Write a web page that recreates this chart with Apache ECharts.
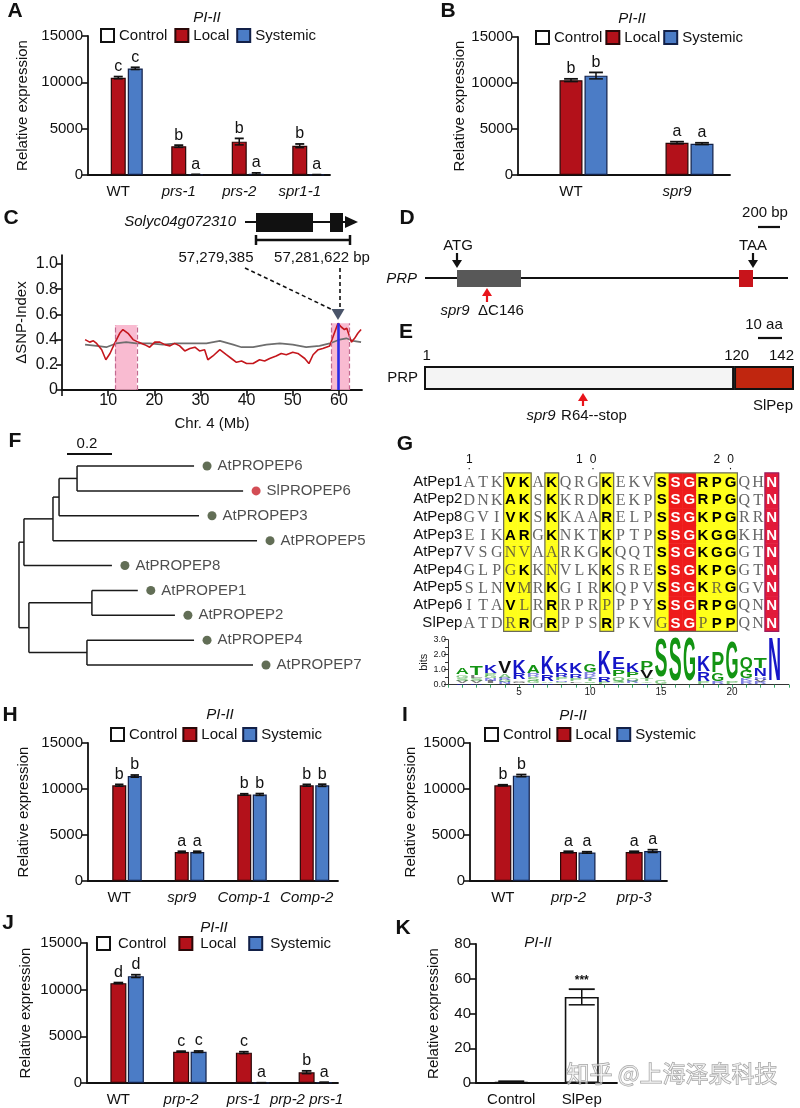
<!DOCTYPE html>
<html>
<head>
<meta charset="utf-8">
<script src="https://cdn.jsdelivr.net/npm/echarts@6/dist/echarts.min.js"></script>
<style>
html, body { margin: 0; padding: 0; background: #fff; }
#fig { width: 800px; height: 1108px; }
</style>
</head>
<body>
<div id="fig"></div>
<script>
// ---------- bar panels: PI-II expression ----------
const groupNames = ['Control', 'Local', 'Systemic'];

const catA = ['WT', 'prs-1', 'prs-2', 'spr1-1'];
const ctrlA = [40, 30, 30, 30];
const localA = [10500, 3100, 3600, 3150];
const sysA = [11500, 50, 130, 20];
const localErrA = [120, 120, 350, 200];
const sysErrA = [120, 20, 100, 20];
const localLetA = ['c', 'b', 'b', 'b'];
const sysLetA = ['c', 'a', 'a', 'a'];

const catB = ['WT', 'spr9'];
const ctrlB = [40, 30];
const localB = [10300, 3500];
const sysB = [10800, 3400];
const localErrB = [150, 120];
const sysErrB = [350, 100];
const localLetB = ['b', 'a'];
const sysLetB = ['b', 'a'];

const catH = ['WT', 'spr9', 'Comp-1', 'Comp-2'];
const ctrlH = [40, 30, 30, 30];
const localH = [10400, 3150, 9400, 10400];
const sysH = [11400, 3150, 9400, 10400];
const localErrH = [100, 80, 80, 100];
const sysErrH = [120, 80, 100, 120];
const localLetH = ['b', 'a', 'b', 'b'];
const sysLetH = ['b', 'a', 'b', 'b'];

const catI = ['WT', 'prp-2', 'prp-3'];
const ctrlI = [40, 30, 30];
const localI = [10400, 3150, 3150];
const sysI = [11450, 3100, 3250];
const localErrI = [60, 80, 80];
const sysErrI = [120, 80, 150];
const localLetI = ['b', 'a', 'a'];
const sysLetI = ['b', 'a', 'a'];

const catJ = ['WT', 'prp-2', 'prs-1', 'prp-2 prs-1'];
const ctrlJ = [40, 30, 30, 30];
const localJ = [10700, 3350, 3250, 1150];
const sysJ = [11450, 3350, 20, 60];
const localErrJ = [60, 60, 100, 150];
const sysErrJ = [150, 80, 10, 20];
const localLetJ = ['d', 'c', 'c', 'b'];
const sysLetJ = ['d', 'c', 'a', 'a'];

const catK = ['Control', 'SlPep'];
const valK = [0.6, 49.5];
const errK = [0.4, 4.5];
const letK = ['', '***'];

// ---------- panel C: delta SNP-index, chr 4 ----------
const redMb = [5.0, 6.0, 6.8, 7.5, 8.6, 9.5, 10.4, 11.4, 12.5, 13.2, 14.3, 15.4, 16.5, 17.9, 19.0, 20.1, 21.2, 22.3, 23.4, 24.4, 25.5, 26.6, 27.7, 28.8, 29.8, 30.9, 31.6, 32.7, 34.2, 35.6, 36.7, 37.8, 38.9, 40.0, 41.4, 42.8, 43.9, 45.0, 46.4, 47.5, 48.6, 50.0, 51.1, 52.6, 53.5, 54.4, 55.5, 56.5, 58.0, 58.9, 59.8, 60.5, 61.2, 61.7, 62.7, 63.4, 64.1, 64.8];
const redIdx = [0.40, 0.38, 0.39, 0.37, 0.32, 0.24, 0.29, 0.37, 0.45, 0.48, 0.45, 0.40, 0.38, 0.36, 0.34, 0.38, 0.38, 0.36, 0.35, 0.37, 0.35, 0.31, 0.33, 0.34, 0.31, 0.32, 0.24, 0.27, 0.32, 0.28, 0.25, 0.22, 0.23, 0.21, 0.21, 0.24, 0.23, 0.25, 0.27, 0.29, 0.28, 0.30, 0.29, 0.25, 0.21, 0.28, 0.32, 0.33, 0.35, 0.44, 0.53, 0.50, 0.48, 0.49, 0.38, 0.41, 0.45, 0.48];
const grayMb = [5.0, 7.5, 9.6, 11.7, 13.9, 16.1, 19.0, 21.9, 24.8, 28.4, 31.3, 34.2, 37.1, 38.9, 41.4, 44.3, 47.2, 50.0, 52.9, 55.8, 58.0, 60.2, 61.6, 63.0, 64.8];
const grayIdx = [0.36, 0.35, 0.34, 0.37, 0.38, 0.37, 0.37, 0.36, 0.37, 0.37, 0.37, 0.39, 0.36, 0.34, 0.34, 0.36, 0.37, 0.36, 0.34, 0.35, 0.37, 0.40, 0.41, 0.39, 0.38];
const pinkRegions = [[11.5, 16.2, 0.515], [58.4, 62.2, 0.53]];
const candidateMb = 59.8;
const candidatePeak = 0.53;

// ---------- panel E: PRP protein ----------
const prpLength = 142;
const pepStart = 120;
const prpTicks = [1, 120, 142];

// ---------- panel F: tree [name, branch length, children] ----------
const phyloTree = ['', 0, [
  ['', 0.022, [
    ['', 0.129, [
      ['', 0.027, [
        ['', 0.08, [['AtPROPEP6', 0.52], ['SlPROPEP6', 0.738]]],
        ['AtPROPEP3', 0.622]
      ]],
      ['AtPROPEP5', 0.907]
    ]],
    ['AtPROPEP8', 0.391]
  ]],
  ['', 0.044, [
    ['', 0.28, [['AtPROPEP1', 0.204], ['AtPROPEP2', 0.369]]],
    ['', 0.258, [['AtPROPEP4', 0.476], ['AtPROPEP7', 0.738]]]
  ]]
]];

// ---------- panel G: alignment + logo ----------
const pepNames = ['AtPep1', 'AtPep2', 'AtPep8', 'AtPep3', 'AtPep7', 'AtPep4', 'AtPep5', 'AtPep6', 'SlPep'];
const pepSeqs = [
  'ATKVKAKQRGKEKVSSGRPGQHN',
  'DNKAKSKKRDKEKPSSGRPGQTN',
  'GVIVKSKKAARELPSSGKPGRRN',
  'EIKARGKNKTKPTPSSGKGGKHN',
  'VSGNVAARKGKQQTSSGKGGGTN',
  'GLPGKKNVLKKSRESSGKPGGTN',
  'SLNVMRKGIRKQPVSSGKRGGVN',
  'ITAVLRRRPRPPPYSSGRPGQNN',
  'ATDRRGRPPSRPKVGSGPPPQNN'
];
const yellowCols = [4, 5, 7, 11, 15, 18, 19, 20];
const redCols = [16, 17, 23];
const thinCells = [[4, 4], [4, 5], [4, 7], [5, 4], [5, 7], [6, 5], [6, 19], [7, 5], [7, 11], [8, 4], [8, 15], [8, 18]];
const boxCols = [[4, 5], [7, 7], [11, 11], [15, 20], [23, 23]];
const headerDigits = { 1: '1', 9: '1', 10: '0', 19: '2', 20: '0' };
const headerDots = [1, 10, 20];
const logoStacks = [
  [['D', 0.1], ['V', 0.15], ['S', 0.2], ['G', 0.2], ['A', 0.45]],
  [['N', 0.1], ['V', 0.15], ['S', 0.15], ['L', 0.2], ['T', 0.6]],
  [['A', 0.1], ['I', 0.15], ['N', 0.15], ['G', 0.15], ['P', 0.15], ['K', 0.5]],
  [['N', 0.15], ['G', 0.15], ['R', 0.15], ['A', 0.25], ['V', 0.75]],
  [['L', 0.1], ['M', 0.1], ['V', 0.1], ['R', 0.4], ['K', 0.9]],
  [['K', 0.1], ['G', 0.15], ['S', 0.25], ['R', 0.25], ['A', 0.5]],
  [['N', 0.1], ['A', 0.1], ['R', 0.4], ['K', 1.2]],
  [['V', 0.1], ['G', 0.1], ['N', 0.1], ['P', 0.2], ['R', 0.3], ['K', 0.6]],
  [['I', 0.1], ['L', 0.1], ['P', 0.2], ['R', 0.3], ['K', 0.7]],
  [['A', 0.1], ['S', 0.1], ['T', 0.15], ['K', 0.2], ['R', 0.25], ['G', 0.5]],
  [['P', 0.15], ['R', 0.35], ['K', 1.6]],
  [['R', 0.1], ['S', 0.15], ['Q', 0.25], ['P', 0.45], ['E', 0.75]],
  [['T', 0.1], ['R', 0.15], ['Q', 0.2], ['P', 0.35], ['K', 0.65]],
  [['E', 0.1], ['Y', 0.1], ['T', 0.15], ['V', 0.55], ['P', 0.6]],
  [['G', 0.25], ['S', 2.6]],
  [['S', 2.9]],
  [['G', 2.9]],
  [['P', 0.2], ['R', 0.6], ['K', 1.1]],
  [['R', 0.15], ['G', 0.55], ['P', 1.4]],
  [['P', 0.15], ['G', 2.5]],
  [['R', 0.2], ['K', 0.2], ['G', 0.55], ['Q', 0.8]],
  [['R', 0.15], ['V', 0.15], ['H', 0.2], ['N', 0.5], ['T', 0.7]],
  [['N', 2.9]]
];

// ================= styles =================
const FONT = '"Liberation Sans", Arial, sans-serif';
const INK = '#111';
const barStyles = {
  Control: { color: '#ffffff', borderColor: '#111', borderWidth: 1.2 },
  Local: { color: '#b3111a', borderColor: '#2a0808', borderWidth: 1.2 },
  Systemic: { color: '#4b7cc6', borderColor: '#122048', borderWidth: 1.2 }
};

const grids = [], xAxes = [], yAxes = [], series = [], legends = [], graphics = [];

function txt(text, x, y, o) {
  o = o || {};
  graphics.push({
    type: 'text', z: 50, silent: true,
    style: {
      text: text, x: x, y: y, fill: o.fill || INK,
      font: o.font || ('15px ' + FONT),
      textAlign: o.align || 'center', textVerticalAlign: 'middle',
      align: o.align || 'center', verticalAlign: 'middle',
      stroke: o.stroke, lineWidth: o.lineWidth
    }
  });
}
function seg(x1, y1, x2, y2, color, w, dash) {
  graphics.push({ type: 'line', z: 50, silent: true, shape: { x1, y1, x2, y2 },
    style: { stroke: color || INK, lineWidth: w || 2, lineDash: dash || null } });
}
function box(x, y, w, h, fill) {
  graphics.push({ type: 'rect', z: 50, silent: true, shape: { x, y, width: w, height: h }, style: { fill } });
}
function arrow(x, yFrom, yTip, color) {
  const d = yTip > yFrom ? 1 : -1;
  seg(x, yFrom, x, yTip - d * 6, color, 2.2);
  graphics.push({ type: 'polygon', z: 50, silent: true,
    shape: { points: [[x - 5, yTip - d * 8], [x + 5, yTip - d * 8], [x, yTip]] }, style: { fill: color } });
}

function catLabel(v) {
  return (v === 'WT' || v === 'Control' || v === 'SlPep') ? v : '{i|' + v + '}';
}

function errSeries(xi, yi, vals, errs, letters, offset, capW, font) {
  return {
    type: 'custom', xAxisIndex: xi, yAxisIndex: yi, z: 5, silent: true,
    data: vals.map((v, i) => [i, v, errs[i]]),
    renderItem: function (params, api) {
      const i = params.dataIndex;
      const v = api.value(1), e = api.value(2);
      const pt = api.coord([i, v + e]);
      const pb = api.coord([i, Math.max(v - e, 0)]);
      const x = pt[0] + offset;
      const ch = [];
      if (e > 0) {
        ch.push({ type: 'line', shape: { x1: x, y1: pb[1], x2: x, y2: pt[1] }, style: { stroke: INK, lineWidth: 1.5 } });
        ch.push({ type: 'line', shape: { x1: x - capW / 2, y1: pt[1], x2: x + capW / 2, y2: pt[1] }, style: { stroke: INK, lineWidth: 1.8 } });
        ch.push({ type: 'line', shape: { x1: x - capW / 2, y1: pb[1], x2: x + capW / 2, y2: pb[1] }, style: { stroke: INK, lineWidth: 1.5 } });
      }
      if (letters[i]) {
        ch.push({ type: 'text', style: { text: letters[i], x: x, y: pt[1] - 2, textAlign: 'center', align: 'center',
          textVerticalAlign: 'bottom', verticalAlign: 'bottom', fill: INK, font: font || ('16px ' + FONT) } });
      }
      return { type: 'group', children: ch };
    }
  };
}

function axisPair(gi, p) {
  xAxes.push({
    type: 'category', gridIndex: gi, data: p.cats,
    axisLine: { lineStyle: { color: INK, width: 1.8 } },
    axisTick: { alignWithLabel: true, length: 5, lineStyle: { color: INK, width: 1.6 } },
    axisLabel: { color: INK, fontSize: 15, margin: 9, interval: 0, formatter: catLabel,
      rich: { i: { fontStyle: 'italic', fontSize: 15, color: INK } } }
  });
  yAxes.push({
    type: 'value', gridIndex: gi, min: 0, max: p.max, interval: p.interval,
    name: 'Relative expression', nameLocation: 'middle', nameGap: p.nameGap,
    nameTextStyle: { fontSize: 15, color: INK },
    splitLine: { show: false },
    axisLine: { show: true, lineStyle: { color: INK, width: 1.8 } },
    axisTick: { show: true, length: 6, lineStyle: { color: INK, width: 1.6 } },
    axisLabel: { color: INK, fontSize: 15, margin: 5, formatter: v => String(v) }
  });
  return [xAxes.length - 1, yAxes.length - 1];
}

function barPanel(p) {
  const gi = grids.length;
  grids.push({ left: p.left, top: p.top, width: p.width, height: p.height });
  const [xi, yi] = axisPair(gi, Object.assign({ max: 15000, interval: 5000 }, p));
  const vals = [p.ctrl, p.local, p.sys];
  vals.forEach((v, k) => {
    series.push({ type: 'bar', name: groupNames[k], xAxisIndex: xi, yAxisIndex: yi, data: v,
      barWidth: p.bw, barGap: (p.gap / p.bw * 100) + '%', itemStyle: barStyles[groupNames[k]], silent: true });
  });
  const step = p.bw + p.gap;
  series.push(errSeries(xi, yi, p.local, p.localErr, p.localLet, 0, p.bw * 0.6));
  series.push(errSeries(xi, yi, p.sys, p.sysErr, p.sysLet, step, p.bw * 0.6));
  legends.push({ left: p.legLeft, top: p.legTop, padding: 0, itemGap: p.legGap, itemWidth: 13, itemHeight: 13,
    icon: 'rect', selectedMode: false, data: groupNames,
    textStyle: { fontSize: 15, color: INK, padding: p.legPad || 0 } });
  txt('PI-II', p.titleX, p.titleY, { font: 'italic 15px ' + FONT });
}

// ---- A, B, H, I, J ----
barPanel({ left: 88, top: 36, width: 242, height: 139, cats: catA, ctrl: ctrlA, local: localA, sys: sysA,
  localErr: localErrA, sysErr: sysErrA, localLet: localLetA, sysLet: sysLetA, bw: 15, gap: 2, nameGap: 58,
  legLeft: 100, legTop: 28, legGap: 7, titleX: 207, titleY: 18 });
barPanel({ left: 518, top: 37, width: 212, height: 138, cats: catB, ctrl: ctrlB, local: localB, sys: sysB,
  localErr: localErrB, sysErr: sysErrB, localLet: localLetB, sysLet: sysLetB, bw: 23, gap: 2, nameGap: 47,
  legLeft: 535, legTop: 30, legGap: 3, titleX: 632, titleY: 19 });
barPanel({ left: 88, top: 743, width: 250, height: 138, cats: catH, ctrl: ctrlH, local: localH, sys: sysH,
  localErr: localErrH, sysErr: sysErrH, localLet: localLetH, sysLet: sysLetH, bw: 14, gap: 1.5, nameGap: 57,
  legLeft: 110, legTop: 727, legGap: 5, titleX: 220, titleY: 715 });
barPanel({ left: 470, top: 743, width: 197, height: 138, cats: catI, ctrl: ctrlI, local: localI, sys: sysI,
  localErr: localErrI, sysErr: sysErrI, localLet: localLetI, sysLet: sysLetI, bw: 17, gap: 1.5, nameGap: 52,
  legLeft: 484, legTop: 727, legGap: 5, titleX: 573, titleY: 716 });
barPanel({ left: 87, top: 943, width: 251, height: 140, cats: catJ, ctrl: ctrlJ, local: localJ, sys: sysJ,
  localErr: localErrJ, sysErr: sysErrJ, localLet: localLetJ, sysLet: sysLetJ, bw: 16, gap: 1.5, nameGap: 54,
  legLeft: 96, legTop: 936, legGap: 12, legPad: [0, 0, 0, 3], titleX: 214, titleY: 928 });

// ---- K ----
(function () {
  const gi = grids.length;
  grids.push({ left: 476, top: 944, width: 141, height: 139 });
  const [xi, yi] = axisPair(gi, { cats: catK, max: 80, interval: 20, nameGap: 35 });
  series.push({ type: 'bar', name: 'PI-II K', xAxisIndex: xi, yAxisIndex: yi, data: valK, barWidth: 34, silent: true,
    itemStyle: { color: '#fff', borderColor: INK, borderWidth: 1.6 } });
  series.push(errSeries(xi, yi, valK, errK, letK, 0, 26, 'bold 12px ' + FONT));
  txt('PI-II', 538, 943, { font: 'italic 15px ' + FONT });
})();

// ---- C: SNP-index ----
(function () {
  const gi = grids.length;
  const ymax = 1.07, pxPerUnit = 126;
  grids.push({ left: 62, top: 390 - ymax * pxPerUnit, width: 300, height: ymax * pxPerUnit });
  xAxes.push({ type: 'value', gridIndex: gi, min: 0, max: 65, interval: 10,
    name: 'Chr. 4 (Mb)', nameLocation: 'middle', nameGap: 26, nameTextStyle: { fontSize: 15, color: INK },
    splitLine: { show: false },
    axisLine: { lineStyle: { color: INK, width: 1.8 } },
    axisTick: { length: 6, lineStyle: { color: INK, width: 1.6 } },
    axisLabel: { fontSize: 16, color: INK, margin: 3, showMaxLabel: false,
      formatter: v => (v > 0 && v % 10 === 0 ? String(v) : '') } });
  yAxes.push({ type: 'value', gridIndex: gi, min: 0, max: ymax, interval: 0.2,
    name: 'ΔSNP-Index', nameLocation: 'middle', nameGap: 33, nameTextStyle: { fontSize: 15, color: INK },
    splitLine: { show: false },
    axisLine: { show: true, lineStyle: { color: INK, width: 1.8 } },
    axisTick: { show: true, length: 6, lineStyle: { color: INK, width: 1.6 } },
    axisLabel: { fontSize: 16, color: INK, margin: 4, showMaxLabel: false,
      formatter: v => (v === 0 ? '0' : (v > 1.01 ? '' : v.toFixed(1))) } });
  const xi = xAxes.length - 1, yi = yAxes.length - 1;
  series.push({ type: 'line', xAxisIndex: xi, yAxisIndex: yi, data: grayMb.map((x, i) => [x, grayIdx[i]]),
    showSymbol: false, silent: true, z: 3, lineStyle: { color: '#6e6e6e', width: 1.6 } });
  series.push({ type: 'line', xAxisIndex: xi, yAxisIndex: yi, data: redMb.map((x, i) => [x, redIdx[i]]),
    showSymbol: false, silent: true, z: 4, lineStyle: { color: '#c4161c', width: 1.6 },
    markArea: { silent: true, itemStyle: { color: 'rgba(248,170,198,0.8)' },
      data: pinkRegions.map(r => [{ coord: [r[0], 0] }, { coord: [r[1], r[2]] }]) },
    markLine: { silent: true, symbol: 'none', label: { show: false },
      lineStyle: { color: '#c36a90', type: 'dashed', width: 1.2 },
      data: pinkRegions.flatMap(r => [[{ coord: [r[0], 0] }, { coord: [r[0], r[2]] }], [{ coord: [r[1], 0] }, { coord: [r[1], r[2]] }]])
        .concat([[{ coord: [candidateMb, 0], lineStyle: { color: '#2a2ae6', type: 'solid', width: 2.6 } },
          { coord: [candidateMb, candidatePeak] }]]) } });
  series.push({ type: 'scatter', xAxisIndex: xi, yAxisIndex: yi, data: [[candidateMb, 0.6]], silent: true, z: 6,
    symbol: 'triangle', symbolRotate: 180, symbolSize: [13, 11], itemStyle: { color: '#1b2944' } });
})();

// gene model + dashed pointers (panel C header)
txt('Solyc04g072310', 236, 222, { font: 'italic 15px ' + FONT, align: 'right' });
seg(245, 222, 348, 222, INK, 2);
box(256, 213, 57, 19, INK);
box(330, 213, 13, 19, INK);
graphics.push({ type: 'polygon', z: 50, silent: true, shape: { points: [[345, 216], [345, 228], [358, 222]] }, style: { fill: INK } });
seg(256, 240, 350, 240, INK, 2.5);
seg(256, 235, 256, 245, INK, 2.5);
seg(350, 235, 350, 245, INK, 2.5);
txt('57,279,385', 216, 258);
txt('57,281,622 bp', 322, 258);
seg(245, 268, 333, 310, INK, 1.6, [4, 3]);
seg(340, 268, 340, 308, INK, 1.6, [4, 3]);

// ---- D: gene structure ----
txt('200 bp', 765, 213);
seg(758, 227, 780, 227, INK, 2.2);
txt('ATG', 458, 246);
arrow(457, 253, 268, INK);
txt('PRP', 417, 279, { font: 'italic 15px ' + FONT, align: 'right' });
seg(425, 278, 788, 278, INK, 2);
box(457, 270, 64, 17, '#585858');
box(739, 270, 14, 17, '#c8141b');
txt('TAA', 753, 246);
arrow(753, 253, 268, INK);
arrow(487, 302, 288, '#e8141b');
txt('spr9', 455, 311, { font: 'italic 15px ' + FONT });
txt('ΔC146', 501, 311);

// ---- E: protein as stacked bar ----
(function () {
  const gi = grids.length;
  grids.push({ left: 424, top: 366, width: 370, height: 24 });
  xAxes.push({ type: 'value', gridIndex: gi, min: 0, max: prpLength, position: 'top',
    axisLine: { show: false }, axisTick: { show: false }, splitLine: { show: false },
    axisLabel: { customValues: prpTicks, fontSize: 15, color: INK, margin: 3, alignMaxLabel: 'right' } });
  yAxes.push({ type: 'category', gridIndex: gi, data: ['PRP'],
    axisLine: { show: false }, axisTick: { show: false },
    axisLabel: { fontSize: 15, color: INK, margin: 6 } });
  const xi = xAxes.length - 1, yi = yAxes.length - 1;
  series.push({ type: 'bar', xAxisIndex: xi, yAxisIndex: yi, stack: 'prp', data: [pepStart - 1], barWidth: 24, silent: true,
    itemStyle: { color: '#f4f4f4', borderColor: INK, borderWidth: 2 } });
  series.push({ type: 'bar', xAxisIndex: xi, yAxisIndex: yi, stack: 'prp', data: [prpLength - pepStart + 1], barWidth: 24, silent: true,
    itemStyle: { color: '#c0260f', borderColor: INK, borderWidth: 2 } });
})();
txt('10 aa', 764, 325);
seg(758, 338, 782, 338, INK, 2.2);
arrow(583, 406, 393, '#e8141b');
txt('spr9', 541, 416, { font: 'italic 15px ' + FONT });
txt('R64--stop', 594, 416);
txt('SlPep', 773, 406);

// ---- F: tree ----
(function () {
  const segs = [], leaves = [];
  let leafY = 0;
  function walk(node, x0) {
    const x = x0 + node[1];
    if (!node[2]) { const y = leafY++; leaves.push([x, y, node[0]]); return { x, y }; }
    const ys = node[2].map(k => { const r = walk(k, x); segs.push([x, r.y, r.x, r.y]); return r.y; });
    segs.push([x, ys[0], x, ys[ys.length - 1]]);
    return { x, y: (ys[0] + ys[ys.length - 1]) / 2 };
  }
  walk(phyloTree, 0);
  const gi = grids.length;
  grids.push({ left: 19, top: 466, width: 225, height: 199 });
  xAxes.push({ type: 'value', gridIndex: gi, min: 0, max: 1, show: false });
  yAxes.push({ type: 'value', gridIndex: gi, min: 0, max: 8, inverse: true, show: false });
  const xi = xAxes.length - 1, yi = yAxes.length - 1;
  series.push({ type: 'custom', xAxisIndex: xi, yAxisIndex: yi, data: segs, silent: true, clip: false,
    renderItem: function (params, api) {
      const a = api.coord([api.value(0), api.value(1)]);
      const b = api.coord([api.value(2), api.value(3)]);
      return { type: 'line', shape: { x1: a[0], y1: a[1], x2: b[0], y2: b[1] }, style: { stroke: '#1a1a1a', lineWidth: 1.5 } };
    } });
  series.push({ type: 'scatter', xAxisIndex: xi, yAxisIndex: yi, silent: true, clip: false,
    symbolSize: 9, symbolOffset: [13, 0],
    data: leaves.map(l => ({ value: [l[0], l[1]], name: l[2],
      itemStyle: { color: l[2].indexOf('Sl') === 0 ? '#c8202a' : '#3b4a2c' } })),
    label: { show: true, position: 'right', distance: 6, fontSize: 15, color: '#222', formatter: p => p.name } });
})();
txt('0.2', 87, 444);
seg(67, 454, 112, 454, INK, 2);

// ---- G: alignment ----
(function () {
  const gi = grids.length;
  grids.push({ left: 462.4, top: 472.9, width: 316.25, height: 158.4 });
  xAxes.push({ type: 'value', gridIndex: gi, min: 0.5, max: 23.5, show: false });
  const xi = xAxes.length - 1;
  const colCats = pepSeqs[0].split('').map((c, i) => String(i + 1));
  xAxes.push({ type: 'category', gridIndex: gi, position: 'top', data: colCats,
    axisLine: { show: false }, axisTick: { show: false },
    axisLabel: { interval: 0, margin: 1, lineHeight: 9,
      formatter: v => '{n|' + (headerDigits[v] || ' ') + '}\n{d|' + (headerDots.indexOf(+v) >= 0 ? '·' : ' ') + '}',
      rich: { n: { font: 'bold 14px "Liberation Mono", monospace', color: INK, lineHeight: 11 },
        d: { font: 'bold 14px "Liberation Mono", monospace', color: INK, lineHeight: 7 } } } });
  yAxes.push({ type: 'category', gridIndex: gi, data: pepNames, inverse: true,
    axisLine: { show: false }, axisTick: { show: false },
    axisLabel: { fontSize: 15, color: INK, margin: 0, interval: 0 } });
  const yi = yAxes.length - 1;
  const thinKey = thinCells.map(c => c[0] + '_' + c[1]);
  const cells = [];
  pepSeqs.forEach((s, r) => s.split('').forEach((ch, i) => cells.push([i + 1, r, ch])));
  series.push({ type: 'custom', xAxisIndex: xi, yAxisIndex: yi, data: cells.map(c => [c[0], c[1]]), silent: true,
    renderItem: function (params, api) {
      const c = cells[params.dataIndex];
      const p = api.coord([c[0], c[1]]);
      const sz = api.size([1, 1]);
      const ch = [];
      const isY = yellowCols.indexOf(c[0]) >= 0, isR = redCols.indexOf(c[0]) >= 0;
      if (isY || isR) {
        ch.push({ type: 'rect', shape: { x: p[0] - sz[0] / 2, y: p[1] - sz[1] / 2, width: sz[0] + 0.5, height: sz[1] + 0.5 },
          style: { fill: isR ? (c[0] === 23 ? '#e21a3a' : '#ee1b1b') : '#ffff1a' } });
      }
      let font = '16px "Liberation Serif", serif', fill = '#666';
      if (isR) { font = 'bold 15px ' + FONT; fill = '#fff'; }
      else if (isY) {
        if (thinKey.indexOf(c[1] + '_' + c[0]) >= 0) { font = '16px "Liberation Serif", serif'; fill = '#6f6a3a'; }
        else { font = 'bold 15px ' + FONT; fill = '#000'; }
      }
      ch.push({ type: 'text', style: { text: c[2], x: p[0], y: p[1] + 1, textAlign: 'center', align: 'center',
        textVerticalAlign: 'middle', verticalAlign: 'middle', font, fill } });
      return { type: 'group', children: ch };
    } });
  series.push({ type: 'custom', xAxisIndex: xi, yAxisIndex: yi, data: boxCols, silent: true, z: 4,
    renderItem: function (params, api) {
      const a = api.coord([api.value(0), 0]);
      const b = api.coord([api.value(1), pepNames.length - 1]);
      const sz = api.size([1, 1]);
      const last = api.value(0) === 23;
      return { type: 'rect', shape: { x: a[0] - sz[0] / 2, y: a[1] - sz[1] / 2, width: b[0] - a[0] + sz[0], height: b[1] - a[1] + sz[1] },
        style: { fill: 'none', stroke: last ? '#9b1d5e' : '#6a6a5a', lineWidth: 1.2 } };
    } });
})();

// ---- G: sequence logo ----
(function () {
  const gi = grids.length;
  grids.push({ left: 448, top: 639.7, width: 340.8, height: 45 });
  xAxes.push({ type: 'value', gridIndex: gi, min: 0, max: 24, interval: 1, splitLine: { show: false },
    axisLine: { lineStyle: { color: '#333', width: 1 } },
    axisTick: { length: 3, lineStyle: { color: '#3a6' } },
    axisLabel: { fontSize: 10, color: '#222', margin: 3, formatter: v => (v > 0 && v % 5 === 0 ? v : '') } });
  yAxes.push({ type: 'value', gridIndex: gi, min: 0, max: 3, interval: 1, splitLine: { show: false },
    name: 'bits', nameLocation: 'middle', nameGap: 17, nameTextStyle: { fontSize: 11, color: '#222' },
    axisLine: { show: true, lineStyle: { color: '#333', width: 1 } },
    axisTick: { show: true, length: 4, lineStyle: { color: '#333' } },
    minorTick: { show: true, splitNumber: 2, length: 3 },
    axisLabel: { fontSize: 9, color: '#222', margin: 2, formatter: v => v.toFixed(1) } });
  const xi = xAxes.length - 1, yi = yAxes.length - 1;
  const letterW = { A: .72, C: .72, D: .72, E: .67, G: .78, H: .72, I: .36, K: .72, L: .61, M: .83, N: .72, P: .67, Q: .78, R: .72, S: .67, T: .61, V: .67, Y: .67 };
  const blue = 'KRHNED', green = 'SGTQPAYC';
  const colorOf = l => (blue.indexOf(l) >= 0 ? '#1515c8' : (green.indexOf(l) >= 0 ? '#139413' : '#111'));
  series.push({ type: 'custom', xAxisIndex: xi, yAxisIndex: yi, silent: true, clip: false,
    data: logoStacks.map((s, i) => [i + 1, 0]),
    renderItem: function (params, api) {
      const stack = logoStacks[params.dataIndex];
      const base = api.coord([api.value(0), 0]);
      const unit = api.size([1, 1]);
      const colW = unit[0] * 0.92;
      const F = 20, cap = 0.72 * F;
      let y = base[1];
      const ch = [];
      stack.forEach(([l, bits]) => {
        const h = bits * unit[1];
        if (h >= 1) {
          ch.push({ type: 'text', x: base[0], y: y - h / 2,
            scaleX: colW / ((letterW[l] || 0.7) * F), scaleY: h / cap,
            style: { text: l, x: 0, y: 0, font: 'bold ' + F + 'px ' + FONT, fill: colorOf(l),
              opacity: bits < 0.3 ? 0.55 : 1,
              textAlign: 'center', align: 'center', textVerticalAlign: 'middle', verticalAlign: 'middle' } });
        }
        y -= h;
      });
      return { type: 'group', children: ch };
    } });
})();

// ---- panel letters ----
[['A', 15, 11], ['B', 448, 11], ['C', 11, 218], ['D', 407, 218], ['E', 406, 332], ['F', 15, 441],
 ['G', 405, 444], ['H', 10, 715], ['I', 405, 715], ['J', 8, 923], ['K', 403, 928]]
  .forEach(p => txt(p[0], p[1], p[2], { font: 'bold 21px ' + FONT }));

// watermark
txt('知乎 @上海泽泉科技', 672, 1073, { font: '23px "Noto Sans CJK SC", sans-serif',
  fill: 'rgba(255,255,255,0.55)', stroke: 'rgba(110,110,110,0.7)', lineWidth: 1 });

const chart = echarts.init(document.getElementById('fig'));
chart.setOption({
  animation: false,
  backgroundColor: '#ffffff',
  textStyle: { fontFamily: FONT },
  grid: grids,
  xAxis: xAxes,
  yAxis: yAxes,
  legend: legends,
  series: series,
  graphic: { elements: graphics }
});
</script>
</body>
</html>
